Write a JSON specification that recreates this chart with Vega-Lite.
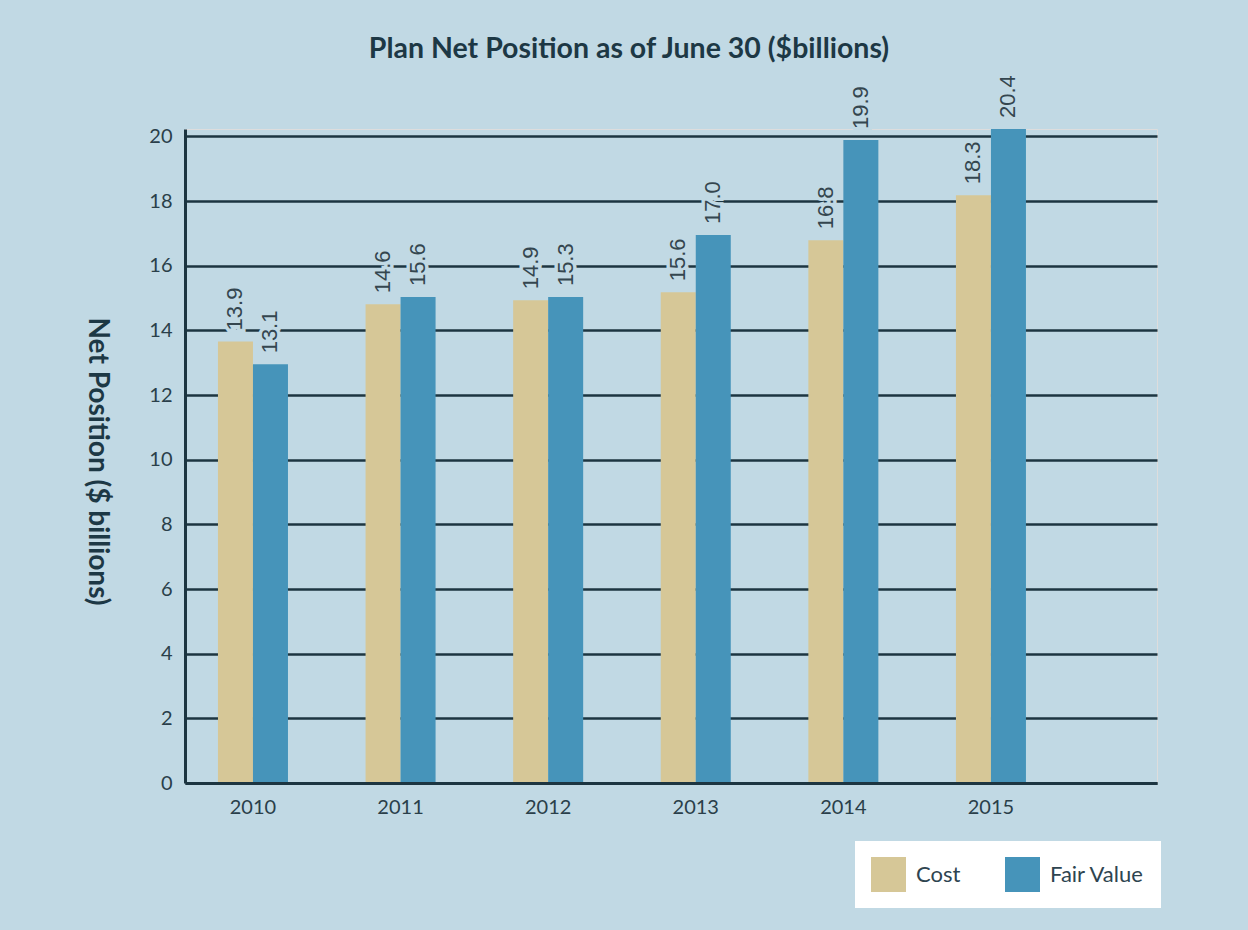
{
  "$schema": "https://vega.github.io/schema/vega-lite/v6.json",
  "width": 972,
  "height": 654,
  "autosize": {"type": "none"},
  "padding": {"left": 185, "top": 129, "right": 91, "bottom": 147},
  "background": "#c1d9e4",
  "title": {
    "text": "Plan Net Position as of June 30 ($billions)",
    "anchor": "middle",
    "dx": -42,
    "offset": 12,
    "fontSize": 28.5,
    "font": "Lato",
    "fontWeight": "bold",
    "color": "#1d3845"
  },
  "data": {
    "values": [
      {"year": "2010", "series": "Cost", "value": 13.66, "label": "13.9"},
      {"year": "2010", "series": "Fair Value", "value": 12.95, "label": "13.1"},
      {"year": "2011", "series": "Cost", "value": 14.81, "label": "14.6"},
      {"year": "2011", "series": "Fair Value", "value": 15.03, "label": "15.6"},
      {"year": "2012", "series": "Cost", "value": 14.93, "label": "14.9"},
      {"year": "2012", "series": "Fair Value", "value": 15.03, "label": "15.3"},
      {"year": "2013", "series": "Cost", "value": 15.18, "label": "15.6"},
      {"year": "2013", "series": "Fair Value", "value": 16.95, "label": "17.0"},
      {"year": "2014", "series": "Cost", "value": 16.79, "label": "16.8"},
      {"year": "2014", "series": "Fair Value", "value": 19.89, "label": "19.9"},
      {"year": "2015", "series": "Cost", "value": 18.18, "label": "18.3"},
      {"year": "2015", "series": "Fair Value", "value": 20.23, "label": "20.4"}
    ]
  },
  "encoding": {
    "x": {
      "field": "year",
      "type": "nominal",
      "scale": {"paddingInner": 0.5257, "paddingOuter": 0.5556, "align": 0.201},
      "axis": {
        "title": null,
        "ticks": false,
        "domainColor": "#1c3541",
        "domainWidth": 3,
        "labelPadding": 14,
        "labelFontSize": 20,
        "labelFont": "Lato",
        "labelColor": "#2a3f4a",
        "labelAngle": 0,
        "zindex": 1
      }
    },
    "xOffset": {
      "field": "series",
      "type": "nominal",
      "sort": ["Cost", "Fair Value"],
      "scale": {"paddingInner": 0, "paddingOuter": 0}
    },
    "y": {
      "field": "value",
      "type": "quantitative",
      "scale": {"domain": [0, 20.23], "nice": false, "zero": true},
      "axis": {
        "values": [0, 2, 4, 6, 8, 10, 12, 14, 16, 18, 20],
        "grid": true,
        "gridColor": "#1c3541",
        "gridWidth": 2.5,
        "domainColor": "#1c3541",
        "domainWidth": 3,
        "ticks": false,
        "labelPadding": 13,
        "labelFontSize": 20,
        "labelFont": "Lato",
        "labelColor": "#2a3f4a",
        "title": "Net Position ($ billions)",
        "titleAngle": 90,
        "titleX": -89,
        "titleY": 332,
        "titleAlign": "center",
        "titleBaseline": "middle",
        "titleFontSize": 28,
        "titleFont": "Lato",
        "titleFontWeight": "bold",
        "titleColor": "#1d3845"
      }
    }
  },
  "layer": [
    {
      "mark": {"type": "bar"},
      "encoding": {
        "color": {
          "field": "series",
          "type": "nominal",
          "scale": {"domain": ["Cost", "Fair Value"], "range": ["#d6c797", "#4694ba"]},
          "legend": {
            "title": null,
            "orient": "none",
            "legendX": 670,
            "legendY": 712,
            "direction": "horizontal",
            "fillColor": "white",
            "padding": 16,
            "symbolType": "square",
            "symbolSize": 1225,
            "symbolStrokeWidth": 0,
            "symbolOpacity": 1,
            "labelFontSize": 22,
            "labelFont": "Lato",
            "labelColor": "#2e4450",
            "labelOffset": 10,
            "columnPadding": 44
          }
        }
      }
    },
    {
      "mark": {
        "type": "text",
        "angle": 270,
        "align": "left",
        "baseline": "middle",
        "dx": 11,
        "font": "Liberation Sans Narrow, Liberation Sans",
        "fontSize": 22,
        "fill": "#c1d9e4",
        "stroke": "#c1d9e4",
        "strokeWidth": 7
      },
      "encoding": {"text": {"field": "label"}}
    },
    {
      "mark": {
        "type": "text",
        "angle": 270,
        "align": "left",
        "baseline": "middle",
        "dx": 11,
        "font": "Liberation Sans Narrow, Liberation Sans",
        "fontSize": 22,
        "fill": "#34464f"
      },
      "encoding": {"text": {"field": "label"}}
    }
  ]
}
